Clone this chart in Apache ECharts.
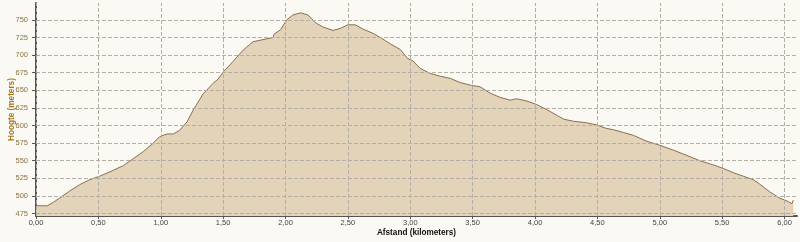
<!DOCTYPE html>
<html>
<head>
<meta charset="utf-8">
<script src="https://cdn.jsdelivr.net/npm/echarts@6/dist/echarts.min.js"></script>
<style>
html,body{margin:0;padding:0;background:#fbf9f3;}
#c{width:800px;height:242px;}
</style>
</head>
<body>
<div id="c"></div>
<script>
const distanceKm = [0.00,0.09,0.14,0.19,0.27,0.35,0.43,0.51,0.59,0.65,0.70,0.78,0.86,0.94,0.99,1.05,1.10,1.15,1.21,1.26,1.34,1.42,1.46,1.50,1.58,1.66,1.74,1.82,1.90,1.91,1.96,2.01,2.06,2.12,2.18,2.24,2.30,2.38,2.44,2.50,2.56,2.62,2.70,2.77,2.84,2.92,2.98,3.02,3.08,3.16,3.24,3.32,3.40,3.49,3.56,3.64,3.72,3.80,3.85,3.93,4.01,4.09,4.17,4.23,4.31,4.41,4.49,4.57,4.63,4.71,4.79,4.89,5.00,5.11,5.21,5.32,5.43,5.51,5.59,5.67,5.75,5.80,5.88,5.96,6.03,6.06,6.07];
const elevationM = [486,486,491,497,507,516,523,528,534,539,543,553,563,575,584,588,588,593,605,622,645,660,666,676,691,707,719,722,725,730,736,750,757,760,757,746,740,735,738,743,743,737,731,724,716,708,695,692,681,674,670,667,661,657,655,646,640,636,638,635,630,623,615,609,606,604,601,596,594,590,586,578,572,565,558,550,544,539,533,528,523,517,506,497,492,489,494];
const xTicks = [0,0.5,1,1.5,2,2.5,3,3.5,4,4.5,5,5.5,6];
const yTicks = [475,500,525,550,575,600,625,650,675,700,725,750];

const FONT = '"Liberation Sans", Arial, sans-serif';
const chart = echarts.init(document.getElementById('c'), null, {renderer:'canvas'});
const gridLine = {type:'dashed', color:'#b3aea6', width:1};
chart.setOption({
  animation:false,
  backgroundColor:'#fbf9f3',
  grid:{left:36, right:3, top:3, bottom:26, containLabel:false, outerBoundsMode:'none'},
  xAxis:{
    type:'value', min:0, max:6.1,
    name:'Afstand (kilometers)', nameLocation:'middle', nameGap:13, nameMoveOverlap:false,
    nameTextStyle:{fontFamily:FONT, fontSize:8.2, fontWeight:'bold', color:'#111'},
    axisLine:{show:true, onZero:false, lineStyle:{color:'#555', width:2}},
    axisTick:{show:true, customValues:xTicks, length:3, lineStyle:{color:'#555'}},
    axisLabel:{customValues:xTicks, fontFamily:FONT, fontSize:7.5, color:'#444', margin:3,
      formatter:v=>v.toFixed(2).replace('.',',')},
    splitLine:{show:false}
  },
  yAxis:{
    type:'value', min:471.5, max:774, offset:3,
    name:'Hoogte (meters)', nameLocation:'middle', nameGap:17, nameRotate:90, nameMoveOverlap:false,
    nameTextStyle:{fontFamily:FONT, fontSize:8.2, fontWeight:'bold', color:'#a8741e'},
    axisLine:{show:true, lineStyle:{color:'#555', width:2}},
    axisTick:{show:true, customValues:yTicks, length:4, lineStyle:{color:'#555'}},
    axisLabel:{customValues:yTicks, fontFamily:FONT, fontSize:7.5, color:'#8c7244', margin:5},
    splitLine:{show:false}
  },
  series:[{
    type:'line',
    data:distanceKm.map((d,i)=>[d, elevationM[i]]),
    symbol:'none',
    lineStyle:{color:'#8a6f4c', width:1},
    areaStyle:{color:'#e3d4b9', opacity:1},
    markLine:{
      silent:true, symbol:['none','none'], label:{show:false}, lineStyle:gridLine,
      emphasis:{disabled:true},
      data:[...yTicks.map(v=>({yAxis:v})), ...xTicks.map(v=>({xAxis:v}))]
    }
  }]
});
</script>
</body>
</html>
